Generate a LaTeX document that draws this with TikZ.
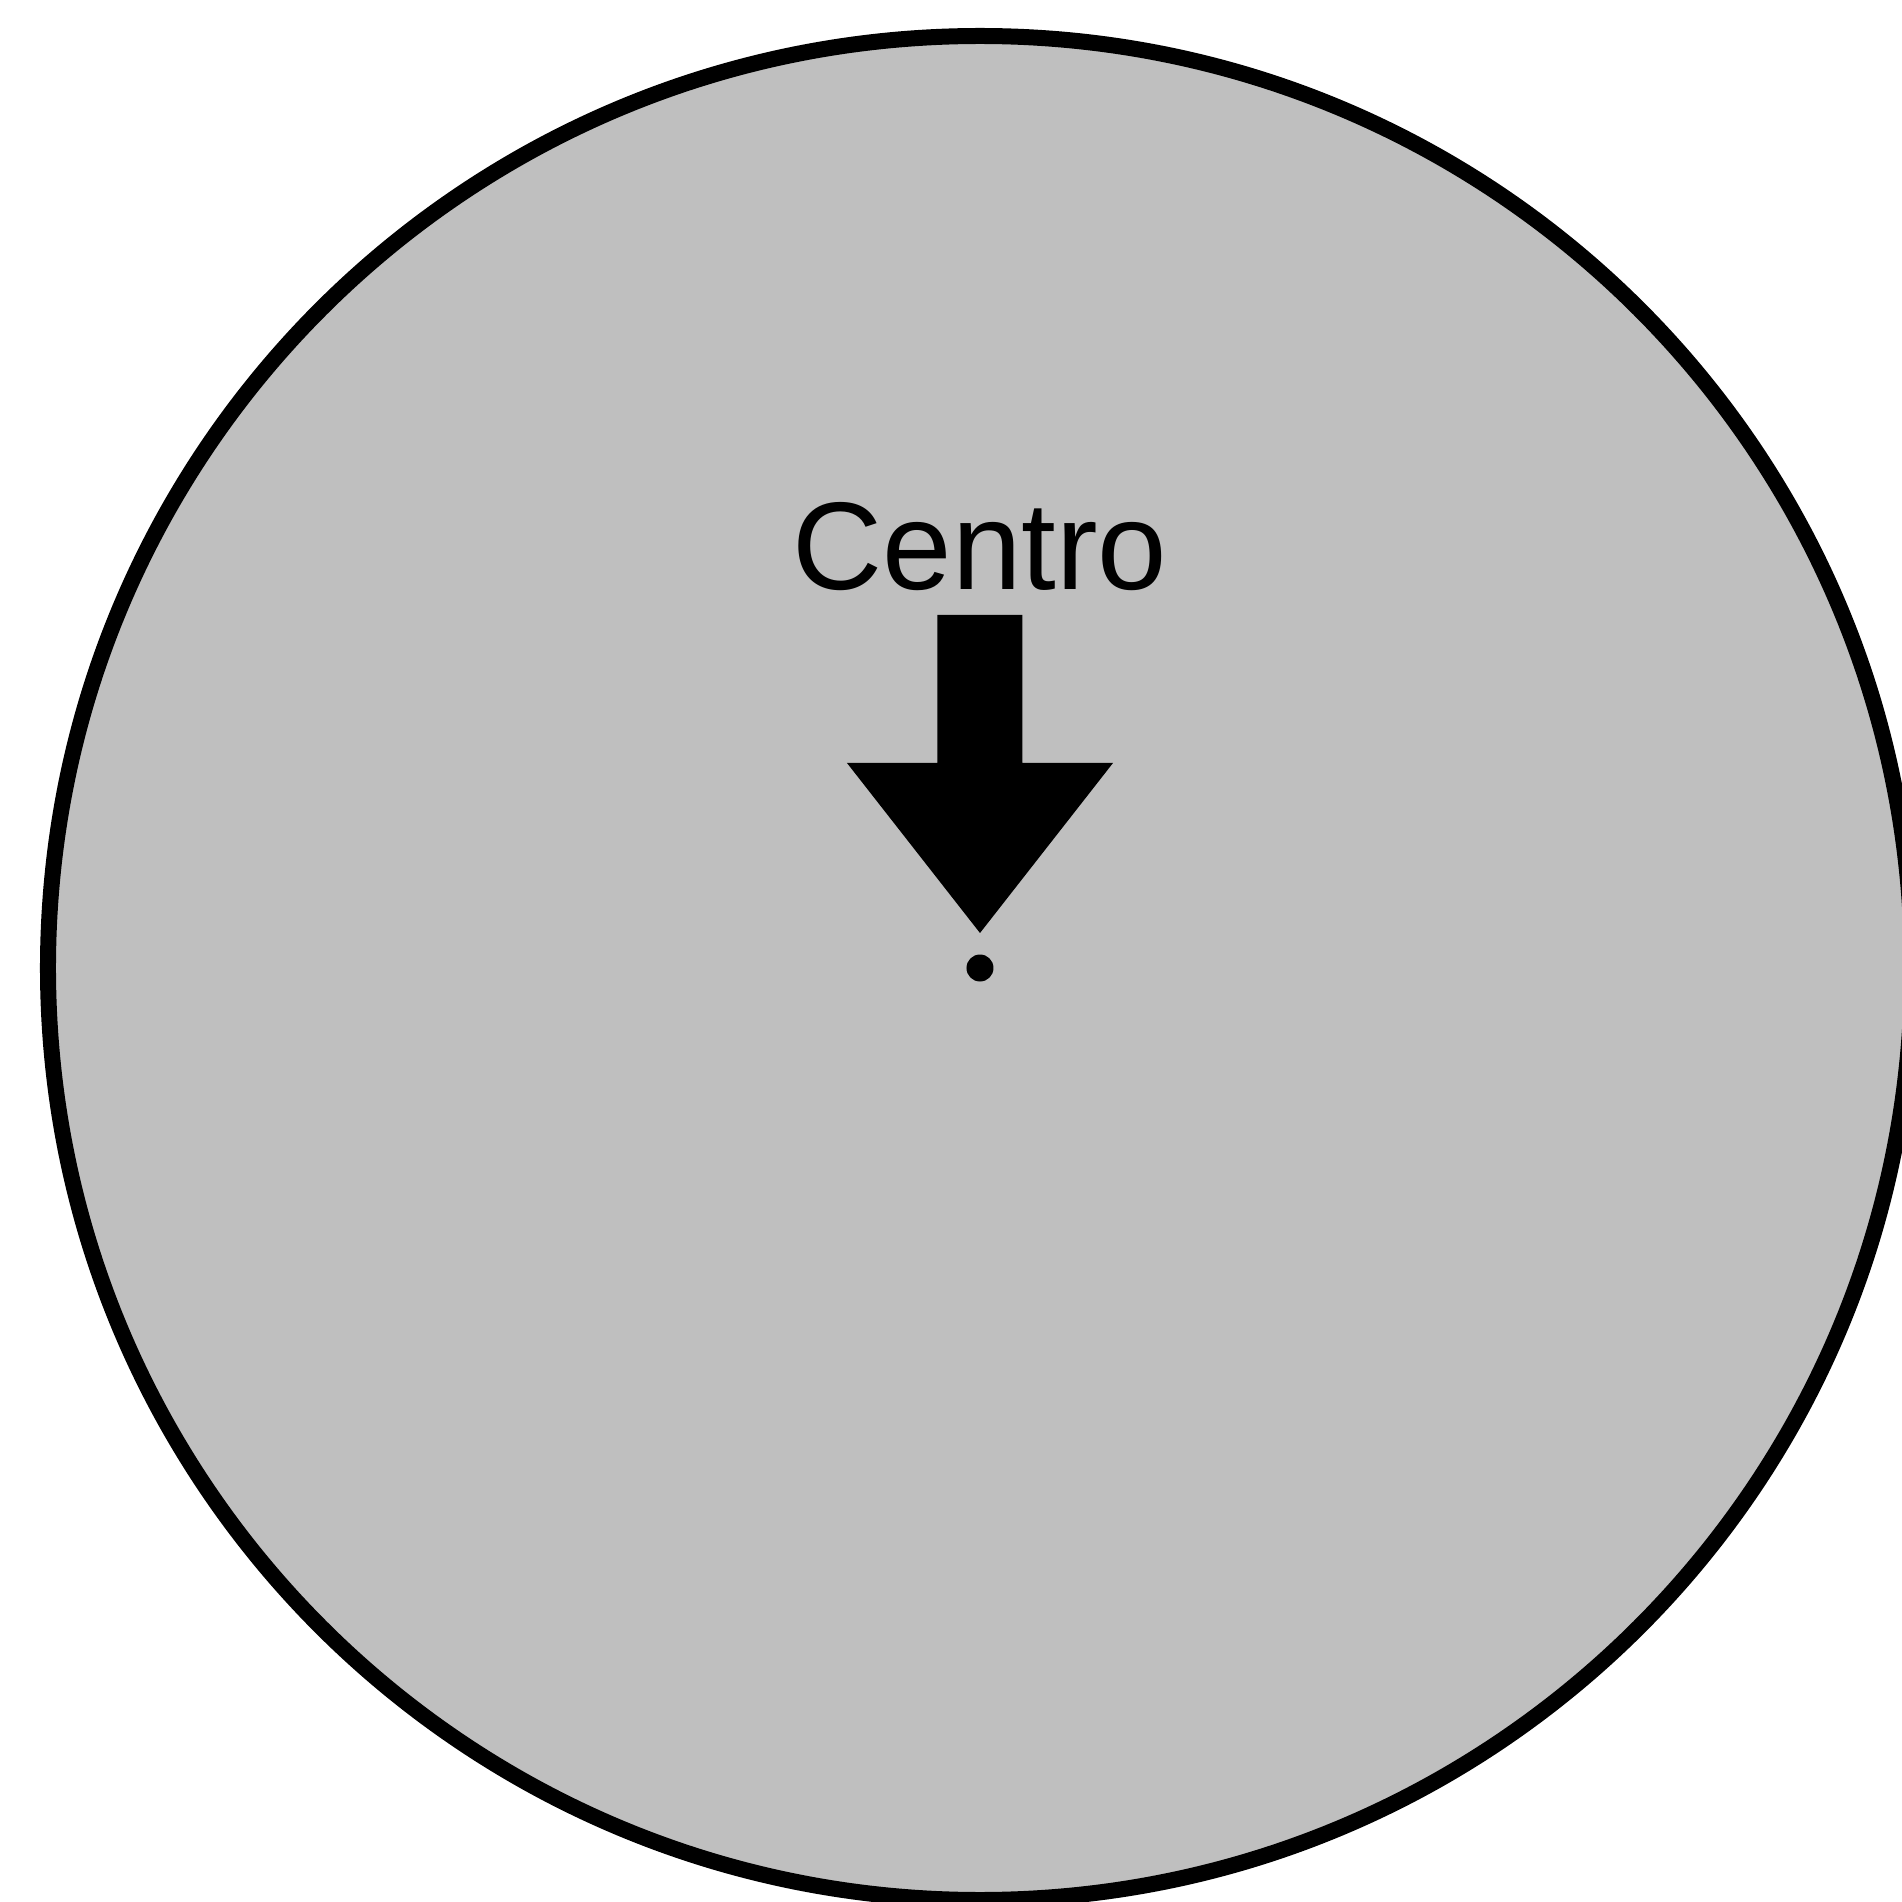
\documentclass[tikz,border=0pt]{standalone}
\usepackage{fontspec}
\setmainfont{Liberation Sans}
\usetikzlibrary{positioning}
\definecolor{discgray}{HTML}{BFBFBF}

\begin{document}
\begin{tikzpicture}[
          disc/.style={
            draw=black,
            line width=0.16cm,
            fill=discgray
          },
          centerdot/.style={
            circle,
            fill=black,
            inner sep=0pt,
            minimum size=0.27cm
          },
          tag/.style={
            anchor=base,
            inner sep=0pt,
            font=\fontsize{35.5pt}{40pt}\selectfont
          },
          blockarrow/.style={fill=black}
        ]
        \useasboundingbox (-9.80,-9.34) rectangle (9.21,9.68);
        \draw[disc] (0,0) circle[radius=9.32cm];
        \node[centerdot] (ctr) at (0,0) {};
        \coordinate (tip) at (0,0.35);
        \coordinate (tail) at (0,3.53);
        \fill[blockarrow] ([xshift=-0.425cm]tail) -- ([xshift=0.425cm]tail)
          -- (0.425,2.05) -- (1.33,2.05) -- (tip) -- (-1.33,2.05)
          -- (-0.425,2.05) -- cycle;
        \node[tag] (lbl) at (0,3.78) {Centro};
      \end{tikzpicture}
\end{document}
